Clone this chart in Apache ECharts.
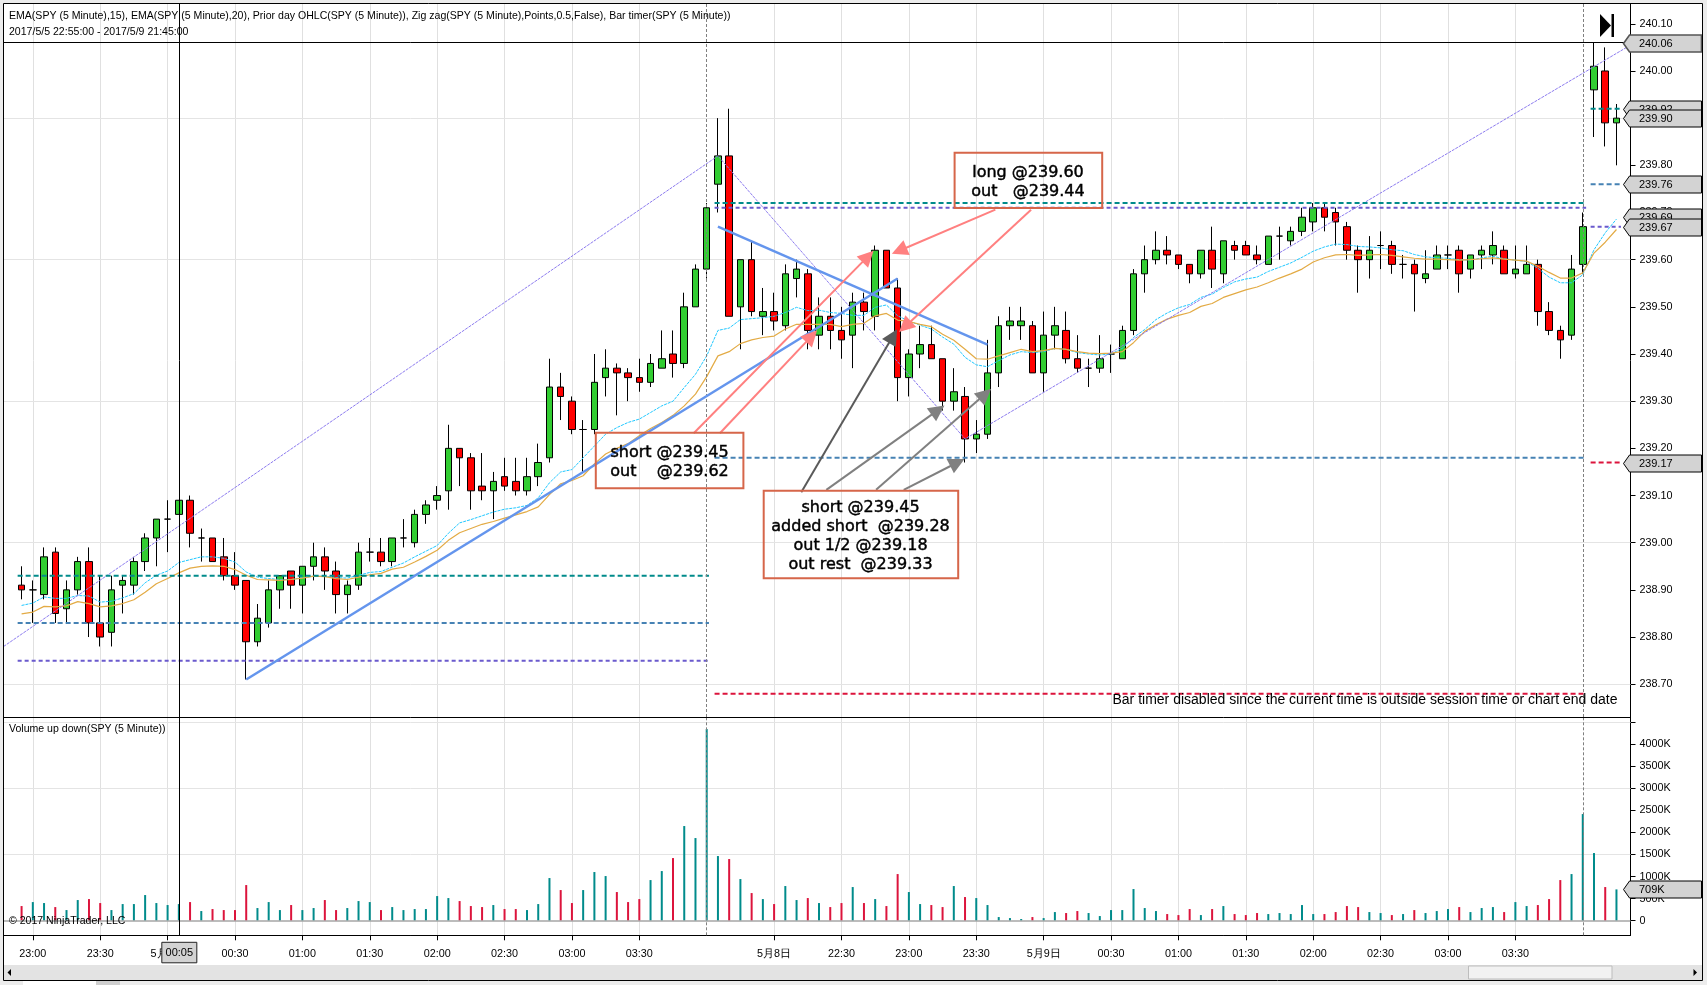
<!DOCTYPE html>
<html><head><meta charset="utf-8">
<style>html,body{margin:0;padding:0;background:#f0f0f0}#c{width:1707px;height:985px}</style>
<script src="https://cdn.jsdelivr.net/npm/echarts@6/dist/echarts.min.js"></script>
</head><body><div id="c"></div>
<script>
// [open, close, low, high], 5 minute bars
const ohlc = [
[238.91,238.90,238.88,238.95],[238.90,238.90,238.83,238.92],[238.89,238.97,238.88,238.99],[238.98,238.85,238.83,238.99],
[238.86,238.90,238.83,238.92],[238.90,238.96,238.89,238.97],[238.96,238.83,238.80,238.99],[238.83,238.80,238.78,238.93],
[238.81,238.90,238.78,238.93],[238.91,238.92,238.85,238.93],[238.91,238.96,238.89,238.97],[238.96,239.01,238.94,239.02],
[239.01,239.05,238.95,239.05],[239.05,239.05,238.98,239.09],[239.06,239.09,239.06,239.09],[239.09,239.02,238.99,239.10],
[239.01,239.01,238.96,239.03],[239.01,238.96,238.96,239.01],[238.97,238.93,238.92,239.01],[238.93,238.91,238.90,238.98],
[238.92,238.79,238.71,238.92],[238.79,238.84,238.78,238.87],[238.83,238.90,238.82,238.92],[238.90,238.93,238.86,238.93],
[238.94,238.91,238.86,238.94],[238.91,238.95,238.85,238.95],[238.95,238.97,238.92,239.00],[238.97,238.94,238.90,238.99],
[238.94,238.89,238.85,238.96],[238.89,238.91,238.85,238.92],[238.91,238.98,238.90,239.00],[238.98,238.98,238.96,239.01],
[238.98,238.96,238.95,239.01],[238.96,239.01,238.95,239.01],[239.01,239.01,238.99,239.05],[239.00,239.06,238.99,239.07],
[239.06,239.08,239.04,239.09],[239.09,239.10,239.07,239.12],[239.11,239.20,239.07,239.25],[239.20,239.18,239.12,239.20],
[239.18,239.11,239.07,239.19],[239.12,239.11,239.09,239.19],[239.11,239.13,239.05,239.15],[239.14,239.12,239.11,239.18],
[239.13,239.11,239.10,239.18],[239.11,239.14,239.10,239.18],[239.14,239.17,239.12,239.21],[239.18,239.33,239.17,239.39],
[239.33,239.31,239.26,239.36],[239.30,239.24,239.23,239.31],[239.24,239.24,239.15,239.26],[239.24,239.34,239.23,239.40],
[239.35,239.37,239.31,239.41],[239.37,239.36,239.27,239.38],[239.36,239.35,239.30,239.37],[239.35,239.34,239.32,239.39],
[239.34,239.38,239.33,239.40],[239.37,239.39,239.37,239.45],[239.40,239.38,239.35,239.45],[239.38,239.50,239.37,239.53],
[239.50,239.58,239.50,239.59],[239.58,239.71,239.56,239.72],[239.76,239.82,239.70,239.90],[239.82,239.48,239.48,239.92],
[239.50,239.60,239.41,239.60],[239.60,239.49,239.48,239.64],[239.48,239.49,239.44,239.54],[239.49,239.47,239.45,239.53],
[239.46,239.57,239.45,239.59],[239.56,239.58,239.52,239.60],[239.57,239.45,239.41,239.58],[239.44,239.48,239.41,239.52],
[239.48,239.45,239.41,239.52],[239.45,239.43,239.39,239.50],[239.44,239.51,239.37,239.53],[239.51,239.49,239.45,239.53],
[239.48,239.62,239.45,239.63],[239.62,239.54,239.54,239.62],[239.54,239.35,239.30,239.56],[239.35,239.40,239.31,239.41],
[239.40,239.42,239.37,239.46],[239.42,239.39,239.39,239.46],[239.39,239.30,239.28,239.39],[239.30,239.32,239.28,239.37],
[239.31,239.22,239.17,239.33],[239.22,239.23,239.19,239.26],[239.23,239.36,239.22,239.43],[239.36,239.46,239.33,239.48],
[239.46,239.47,239.43,239.50],[239.46,239.47,239.43,239.50],[239.46,239.36,239.36,239.47],[239.36,239.44,239.32,239.49],
[239.44,239.46,239.41,239.50],[239.45,239.39,239.38,239.49],[239.39,239.37,239.36,239.44],[239.37,239.37,239.33,239.39],
[239.37,239.39,239.36,239.44],[239.40,239.40,239.36,239.42],[239.39,239.45,239.39,239.46],[239.45,239.57,239.44,239.58],
[239.57,239.60,239.53,239.63],[239.60,239.62,239.59,239.66],[239.62,239.61,239.59,239.65],[239.61,239.59,239.58,239.61],
[239.59,239.57,239.55,239.59],[239.57,239.62,239.56,239.62],[239.62,239.58,239.54,239.67],[239.57,239.64,239.55,239.64],
[239.63,239.62,239.60,239.64],[239.63,239.61,239.61,239.64],[239.61,239.60,239.59,239.63],[239.59,239.65,239.59,239.65],
[239.65,239.65,239.60,239.67],[239.64,239.66,239.63,239.67],[239.66,239.69,239.65,239.71],[239.68,239.71,239.66,239.72],
[239.71,239.69,239.66,239.72],[239.70,239.68,239.63,239.71],[239.67,239.62,239.60,239.68],[239.62,239.60,239.53,239.63],
[239.60,239.62,239.56,239.65],[239.63,239.63,239.58,239.66],[239.63,239.59,239.57,239.64],[239.59,239.59,239.56,239.61],
[239.59,239.57,239.49,239.60],[239.56,239.57,239.55,239.62],[239.58,239.61,239.58,239.63],[239.61,239.61,239.58,239.63],
[239.62,239.57,239.53,239.63],[239.58,239.61,239.56,239.61],[239.61,239.62,239.58,239.63],[239.61,239.63,239.59,239.66],
[239.62,239.57,239.57,239.63],[239.57,239.58,239.56,239.63],[239.57,239.59,239.57,239.63],[239.59,239.49,239.46,239.60],
[239.49,239.45,239.44,239.51],[239.45,239.43,239.39,239.46],[239.44,239.58,239.43,239.61],[239.59,239.67,239.57,239.70],
[239.96,240.01,239.86,240.06],[240.00,239.89,239.84,240.05],[239.89,239.90,239.80,239.93]
];
const volumeK = [332,422,400,309,241,468,490,400,241,377,377,581,400,355,377,422,219,264,241,241,807,287,422,241,355,241,287,468,241,287,445,422,241,309,241,264,264,558,513,445,332,309,355,264,264,241,377,966,694,400,694,1102,1011,649,422,490,920,1124,1418,2143,1871,4338,1464,1396,943,626,490,377,785,468,513,400,309,400,762,400,490,332,1056,649,377,355,309,785,536,513,355,83,60,38,83,60,196,174,219,174,106,241,241,717,287,219,151,128,264,128,264,332,151,128,174,151,174,151,355,151,151,196,332,309,196,174,128,151,241,174,219,264,309,196,287,309,196,422,332,355,490,920,1056,2414,1532,762,709];
const ema15 = [238.867,238.872,238.885,238.882,238.882,238.888,238.887,238.874,238.876,238.883,238.892,238.915,238.931,238.940,238.958,238.964,238.970,238.970,238.967,238.959,238.938,238.927,238.924,238.922,238.922,238.926,238.929,238.929,238.926,238.925,238.931,238.937,238.939,238.948,238.957,238.970,238.982,238.994,239.020,239.042,239.049,239.057,239.065,239.071,239.074,239.079,239.095,239.127,239.150,239.155,239.180,239.205,239.230,239.244,239.255,239.262,239.276,239.290,239.300,239.329,239.357,239.396,239.450,239.455,239.473,239.475,239.477,239.480,239.488,239.499,239.492,239.493,239.488,239.486,239.482,239.482,239.499,239.504,239.481,239.470,239.461,239.453,239.436,239.421,239.393,239.377,239.373,239.386,239.398,239.405,239.403,239.405,239.412,239.410,239.403,239.400,239.398,239.400,239.412,239.435,239.452,239.473,239.487,239.498,239.505,239.520,239.527,239.541,239.553,239.559,239.563,239.575,239.584,239.593,239.605,239.618,239.627,239.633,239.632,239.628,239.627,239.625,239.621,239.619,239.611,239.606,239.604,239.603,239.600,239.599,239.604,239.607,239.602,239.599,239.596,239.582,239.563,239.551,239.551,239.568,239.621,239.657,239.686];
const ema20 = [238.849,238.853,238.865,238.864,238.866,238.875,238.871,238.864,238.866,238.871,238.879,238.895,238.913,238.924,238.936,238.946,238.950,238.951,238.950,238.943,238.931,238.922,238.921,238.920,238.922,238.925,238.929,238.928,238.924,238.922,238.927,238.932,238.935,238.944,238.948,238.959,238.971,238.984,239.005,239.021,239.030,239.039,239.045,239.052,239.059,239.066,239.076,239.102,239.125,239.132,239.142,239.167,239.188,239.200,239.210,239.227,239.242,239.255,239.270,239.290,239.315,239.352,239.396,239.405,239.422,239.430,239.435,239.438,239.453,239.463,239.463,239.463,239.463,239.458,239.463,239.465,239.481,239.486,239.472,239.469,239.463,239.458,239.442,239.429,239.410,239.390,239.389,239.396,239.403,239.410,239.405,239.407,239.412,239.410,239.405,239.402,239.401,239.402,239.405,239.424,239.448,239.462,239.474,239.482,239.488,239.501,239.507,239.520,239.528,239.536,239.542,239.551,239.561,239.570,239.580,239.595,239.604,239.610,239.611,239.609,239.610,239.611,239.609,239.606,239.603,239.601,239.601,239.600,239.599,239.600,239.602,239.604,239.601,239.599,239.597,239.586,239.573,239.561,239.561,239.572,239.614,239.637,239.664];
const zigzag = [[-1.6,238.78],[62,239.82],[84,239.22],[142.9,240.05]];
const trendUp = [[20,238.71],[78,239.56]];
const trendDown = [[62,239.67],[86,239.42]];
const sessionSpans = [[-0.35,61.2],[61.7,139.3],[139.7,142.4]];
const priorOpen = [238.93,239.72,239.92];
const priorHigh = [238.83,239.18,239.76];
const priorLow = [238.75,239.71,239.67];
const priorClose = [null,238.68,239.17];
const pinkArrows = [[59.84,239.232,75.36,239.607],[62.17,239.232,70.34,239.438],[86.7,239.706,78.14,239.619],[89.88,239.706,78.65,239.458]];
const darkArrows = [[69.42,239.107,77.59,239.438]];
const grayArrows = [[71.65,239.112,81.59,239.281],[76.08,239.112,85.79,239.315],[78.54,239.112,83.32,239.17]];
const timeTickIdx = [1,7,13,19,25,31,37,43,49,55,67,73,79,85,91,97,103,109,115,121,127,133];
const timeTickLabels = ['23:00','23:30','5月6日','00:30','01:00','01:30','02:00','02:30','03:00','03:30','5月8日','22:30','23:00','23:30','5月9日','00:30','01:00','01:30','02:00','02:30','03:00','03:30'];
const priceTicks = [238.7,238.8,238.9,239.0,239.1,239.2,239.3,239.4,239.5,239.6,239.7,239.8,239.9,240.0,240.1];
const priceGrid = [238.7,239.0,239.3,239.6,239.9];
const volTicks = [0,500,1000,1500,2000,2500,3000,3500,4000,4500];
const volLabels = [0,500,1000,1500,2000,2500,3000,3500,4000];
const volGrid = [1500,3000,4500];
const priceTags = [239.71,240.06,239.92,239.90,239.76,239.69,239.67,239.17];
const volTag = [709];
const sessionBreaks = [61,139];
const crossIdx = 14, crossPrice = 240.06;

const FONT = '"Liberation Sans",Arial,sans-serif';
const xMin = -1.61, xMax = 143.25, yMin = 238.6305, yMax = 240.142, vMin = -330, vMax = 4611;
const L = 3.5, R = 1630.5;
const boxStyle = {fill:'none', stroke:'#d6664a', lineWidth:2};
const boxFont = '16px "DejaVu Sans",sans-serif';
const smallFont = '10.56px '+FONT;
const tagSeries = (name, xa, ya, vals, fmt) => ({
  type:'custom', name, xAxisIndex:xa, yAxisIndex:ya, clip:false, z:20, silent:true,
  encode:{x:0,y:1}, data: vals.map(v=>[xMax,v]),
  renderItem(params, api){
    const p = api.coord([api.value(0), api.value(1)]);
    const x = p[0], y = Math.round(p[1])+0.5, v = vals[params.dataIndex];
    const cross = v===crossPrice, bare = v===239.71;
    if (bare) return {type:'text', style:{text:fmt(v), x:x+8.5, y:y+5, font:'11px '+FONT, fill:'#000', verticalAlign:'middle'}};
    return {type:'group', children:[
      {type:'polygon', shape:{points:[[x-7,y],[x-1,y-8.5],[x+71,y-8.5],[x+71,y+8.5],[x-1,y+8.5]]},
       style:{fill:'#d3d3d3', stroke: cross?'#555':'#000', lineWidth: cross?1.6:1}},
      {type:'text', style:{text:fmt(v), x:x+8.5, y:y+0.5, font:'11px '+FONT, fill:'#000', verticalAlign:'middle'}}
    ]};
  }
});
const arrowSeries = (arr,color,size,w) => ({
  type:'line', data:[], xAxisIndex:0, yAxisIndex:0, silent:true, z:9,
  markLine:{silent:true, animation:false, z:9, symbol:['none','triangle'], symbolSize:size, label:{show:false},
    lineStyle:{color, width:w, type:'solid', opacity:1}, emphasis:{disabled:true},
    data:arr.map(a=>[{coord:[a[0],a[1]]},{coord:[a[2],a[3]]}])}
});
const seg = (vals, color, w, dash) => vals.map((v,i)=> v==null?null:({
  type:'line', xAxisIndex:0, yAxisIndex:0, showSymbol:false, silent:true, z:6,
  lineStyle:{color, width:w, type:dash}, data:[[sessionSpans[i][0],v],[sessionSpans[i][1],v]]
})).filter(Boolean);
const vline = (xa,ya,vals,color,type) => ({
  type:'line', data:[], xAxisIndex:xa, yAxisIndex:ya, silent:true, z:7,
  markLine:{silent:true, animation:false, z:7, symbol:'none', label:{show:false},
    lineStyle:{color, width:1, type, opacity:1}, data:vals.map(v=>({xAxis:v}))}
});
const hline = (xa,ya,vals,color,w,z) => ({
  type:'line', data:[], xAxisIndex:xa, yAxisIndex:ya, silent:true, z,
  markLine:{silent:true, animation:false, z, symbol:'none', label:{show:false},
    lineStyle:{color, width:w, type:'solid', opacity:1}, data:vals.map(v=>({yAxis:v}))}
});
const txt = (text,x,y,font,extra) => ({type:'text', silent:true, z:30, style:Object.assign({text,x,y,font,fill:'#000',verticalAlign:'middle'},extra||{})});
const rect = (x,y,w,h,fill,stroke,z) => ({type:'rect', silent:true, z:z==null?-1:z, shape:{x,y,width:w,height:h}, style:{fill,stroke:stroke||'none',lineWidth:1}});
const boxText = {align:'center', lineHeight:19, stroke:'#000', lineWidth:0.45};

const xBase = {type:'value', min:xMin, max:xMax, splitNumber:1, scale:true,
  axisPointer:{show:false}, splitLine:{show:true, lineStyle:{color:'#e0e0e0', width:1}}};
const yLine = {show:true, onZero:false, lineStyle:{color:'#000'}};
const option = {
  animation:false, backgroundColor:'#fff', tooltip:{show:false},
  grid:[
    {left:L, top:4, width:R-L, height:713, show:false, containLabel:false},
    {left:L, top:717, width:R-L, height:218.3, show:false, containLabel:false}
  ],
  xAxis:[
    Object.assign({}, xBase, {gridIndex:0, axisLine:{show:false}, axisLabel:{show:false}, axisTick:{show:false, customValues:timeTickIdx}}),
    Object.assign({}, xBase, {gridIndex:1, axisLine:{show:true, onZero:false, lineStyle:{color:'#000',width:1}},
      axisTick:{show:true, length:5, customValues:timeTickIdx, lineStyle:{color:'#000'}},
      axisLabel:{show:true, customValues:timeTickIdx, color:'#000', fontFamily:FONT, fontSize:10.8, margin:13, hideOverlap:false,
        formatter:v=>timeTickLabels[timeTickIdx.indexOf(v)]||''}})
  ],
  yAxis:[
    {type:'value', gridIndex:0, position:'right', min:yMin, max:yMax, splitLine:{show:false},
      axisLine:yLine,
      axisTick:{show:true, length:5, customValues:priceTicks, lineStyle:{color:'#000'}},
      axisLabel:{show:true, customValues:priceTicks, color:'#000', fontFamily:FONT, fontSize:10.8, margin:9, padding:[2,0,0,0], formatter:v=>v.toFixed(2), hideOverlap:false}},
    {type:'value', gridIndex:1, position:'right', min:vMin, max:vMax, splitLine:{show:false},
      axisLine:yLine,
      axisTick:{show:true, length:5, customValues:volTicks, lineStyle:{color:'#000'}},
      axisLabel:{show:true, customValues:volLabels, color:'#000', fontFamily:FONT, fontSize:10.8, margin:9, padding:[2,0,0,0], formatter:v=>v===0?'0':v+'K', hideOverlap:false}}
  ],
  graphic:{elements:[
    rect(0,0,1707,3,'#ececec'), rect(0,0,3,985,'#ececec'), rect(1703,0,4,985,'#ececec'),
    rect(3.5,965,1699,15,'#e3e3e3'), rect(0,981,1707,4,'#ececec'),
    rect(23,981,73,4,'#fff'), rect(96,981,24,4,'#cfcfcf'),
    rect(1468.5,966,143.5,13,'#f2f2f2','#bdbdbd',1),
    {type:'polygon', silent:true, z:30, shape:{points:[[11,969],[7.5,972.5],[11,976]]}, style:{fill:'#000'}},
    {type:'polygon', silent:true, z:30, shape:{points:[[1693.5,969],[1697,972.5],[1693.5,976]]}, style:{fill:'#000'}},
    {type:'line', silent:true, z:30, shape:{x1:3.5,y1:3.5,x2:1702.5,y2:3.5}, style:{stroke:'#000',lineWidth:1}},
    {type:'line', silent:true, z:30, shape:{x1:3.5,y1:3.5,x2:3.5,y2:980.5}, style:{stroke:'#000',lineWidth:1}},
    {type:'line', silent:true, z:30, shape:{x1:1702.5,y1:3.5,x2:1702.5,y2:980.5}, style:{stroke:'#000',lineWidth:1}},
    {type:'line', silent:true, z:30, shape:{x1:3.5,y1:980.5,x2:1702.5,y2:980.5}, style:{stroke:'#000',lineWidth:1}},
    {type:'line', silent:true, z:30, shape:{x1:3.5,y1:717.5,x2:1630.5,y2:717.5}, style:{stroke:'#000',lineWidth:1}},
    txt('EMA(SPY (5 Minute),15), EMA(SPY (5 Minute),20), Prior day OHLC(SPY (5 Minute)), Zig zag(SPY (5 Minute),Points,0.5,False), Bar timer(SPY (5 Minute))',9,16,smallFont),
    txt('2017/5/5 22:55:00 - 2017/5/9 21:45:00',9,32.5,smallFont),
    txt('Volume up down(SPY (5 Minute))',9,729.5,smallFont),
    txt('© 2017 NinjaTrader, LLC',9,921,smallFont),
    txt('Bar timer disabled since the current time is outside session time or chart end date',1617.5,700.5,'14px '+FONT,{align:'right'}),
    Object.assign(rect(595.8,432.7,147.6,55.6,'none','#d6664a',25),{style:boxStyle}),
    Object.assign(rect(763.7,490.7,194.5,87.6,'none','#d6664a',25),{style:boxStyle}),
    Object.assign(rect(954.6,152.7,147.6,55.3,'none','#d6664a',25),{style:boxStyle}),
    txt('short @239.45\nout    @239.62',669.5,462,boxFont,boxText),
    txt('short @239.45\nadded short  @239.28\nout 1/2 @239.18\nout rest  @239.33',860.5,536,boxFont,boxText),
    txt('long @239.60\nout   @239.44',1028,182,boxFont,boxText),
    {type:'polygon', silent:true, z:30, shape:{points:[[1600,14],[1611,25.5],[1600,37]]}, style:{fill:'#000'}},
    rect(1611.5,14,2.5,23,'#000','none',30)
  ]},
  series:[
    hline(0,0,priceGrid,'#e4e4e4',1,1),
    hline(1,1,volGrid,'#e4e4e4',1,1),
    {type:'candlestick', name:'SPY', xAxisIndex:0, yAxisIndex:0, barWidth:7, z:3, silent:true, clip:true,
      itemStyle:{color:'#32cd32', color0:'#ff0000', borderColor:'#000', borderColor0:'#000', borderColorDoji:'#000', borderWidth:1},
      encode:{x:0,y:[1,2,3,4]},
      data:ohlc.map((r,i)=>[i,r[0],r[1],r[2],r[3]])},
    {type:'line', name:'EMA15', xAxisIndex:0, yAxisIndex:0, showSymbol:false, silent:true, z:5, lineStyle:{color:'#1fc8ff', width:1, type:[3,1]}, data:ema15.map((v,i)=>[i,v])},
    {type:'line', name:'EMA20', xAxisIndex:0, yAxisIndex:0, showSymbol:false, silent:true, z:5, lineStyle:{color:'#e3ab45', width:1.2}, data:ema20.map((v,i)=>[i,v])},
    {type:'line', name:'Zig zag', xAxisIndex:0, yAxisIndex:0, showSymbol:false, silent:true, z:5, lineStyle:{color:'#8c7bee', width:1, type:[3,1]}, data:zigzag},
    ...seg(priorOpen,'#008b8b',2,[5,3]), ...seg(priorHigh,'#4682b4',2,[5,3]), ...seg(priorLow,'#6a5acd',2,[4,3]), ...seg(priorClose,'#dc143c',2,[5,3]),
    {type:'line', name:'Trend up', xAxisIndex:0, yAxisIndex:0, showSymbol:false, silent:true, z:8, lineStyle:{color:'#6495ed', width:2.5}, data:trendUp},
    {type:'line', name:'Trend down', xAxisIndex:0, yAxisIndex:0, showSymbol:false, silent:true, z:8, lineStyle:{color:'#6495ed', width:2.5}, data:trendDown},
    arrowSeries(pinkArrows,'#ff8080',16,2),
    arrowSeries(darkArrows,'#5a5a5a',16,2),
    arrowSeries(grayArrows,'#808080',16,2),
    vline(0,0,sessionBreaks,'#808080',[3,2]),
    vline(1,1,sessionBreaks,'#808080',[3,2]),
    vline(0,0,[crossIdx],'#000','solid'),
    vline(1,1,[crossIdx],'#000','solid'),
    hline(0,0,[crossPrice],'#000',1,7),
    {type:'bar', name:'Volume', xAxisIndex:1, yAxisIndex:1, barWidth:2, z:3, silent:true,
      data:volumeK.map((v,i)=>({value:[i,v], itemStyle:{color: ohlc[i][1]>=ohlc[i][0] ? '#008b8b' : '#dc143c'}}))},
    hline(1,1,[0],'#a6a6a6',1.5,4),
    tagSeries('Price tags',0,0,priceTags,v=>v.toFixed(2)),
    tagSeries('Volume tag',1,1,volTag,v=>v+'K'),
    {type:'custom', name:'Cross time', xAxisIndex:1, yAxisIndex:1, clip:false, z:20, silent:true, encode:{x:0,y:1}, data:[[crossIdx,vMin]],
      renderItem(params,api){
        const p = api.coord([api.value(0),api.value(1)]);
        return {type:'group', children:[
          {type:'rect', shape:{x:p[0]-17,y:p[1]+7,width:35,height:20.5}, style:{fill:'#d3d3d3',stroke:'#222',lineWidth:1}},
          {type:'text', style:{text:'00:05', x:p[0]+0.5, y:p[1]+17.5, font:'11px '+FONT, fill:'#000', align:'center', verticalAlign:'middle'}}
        ]};
      }}
  ]
};
const chart = echarts.init(document.getElementById('c'), null, {renderer:'canvas'});
chart.setOption(option);
</script></body></html>
